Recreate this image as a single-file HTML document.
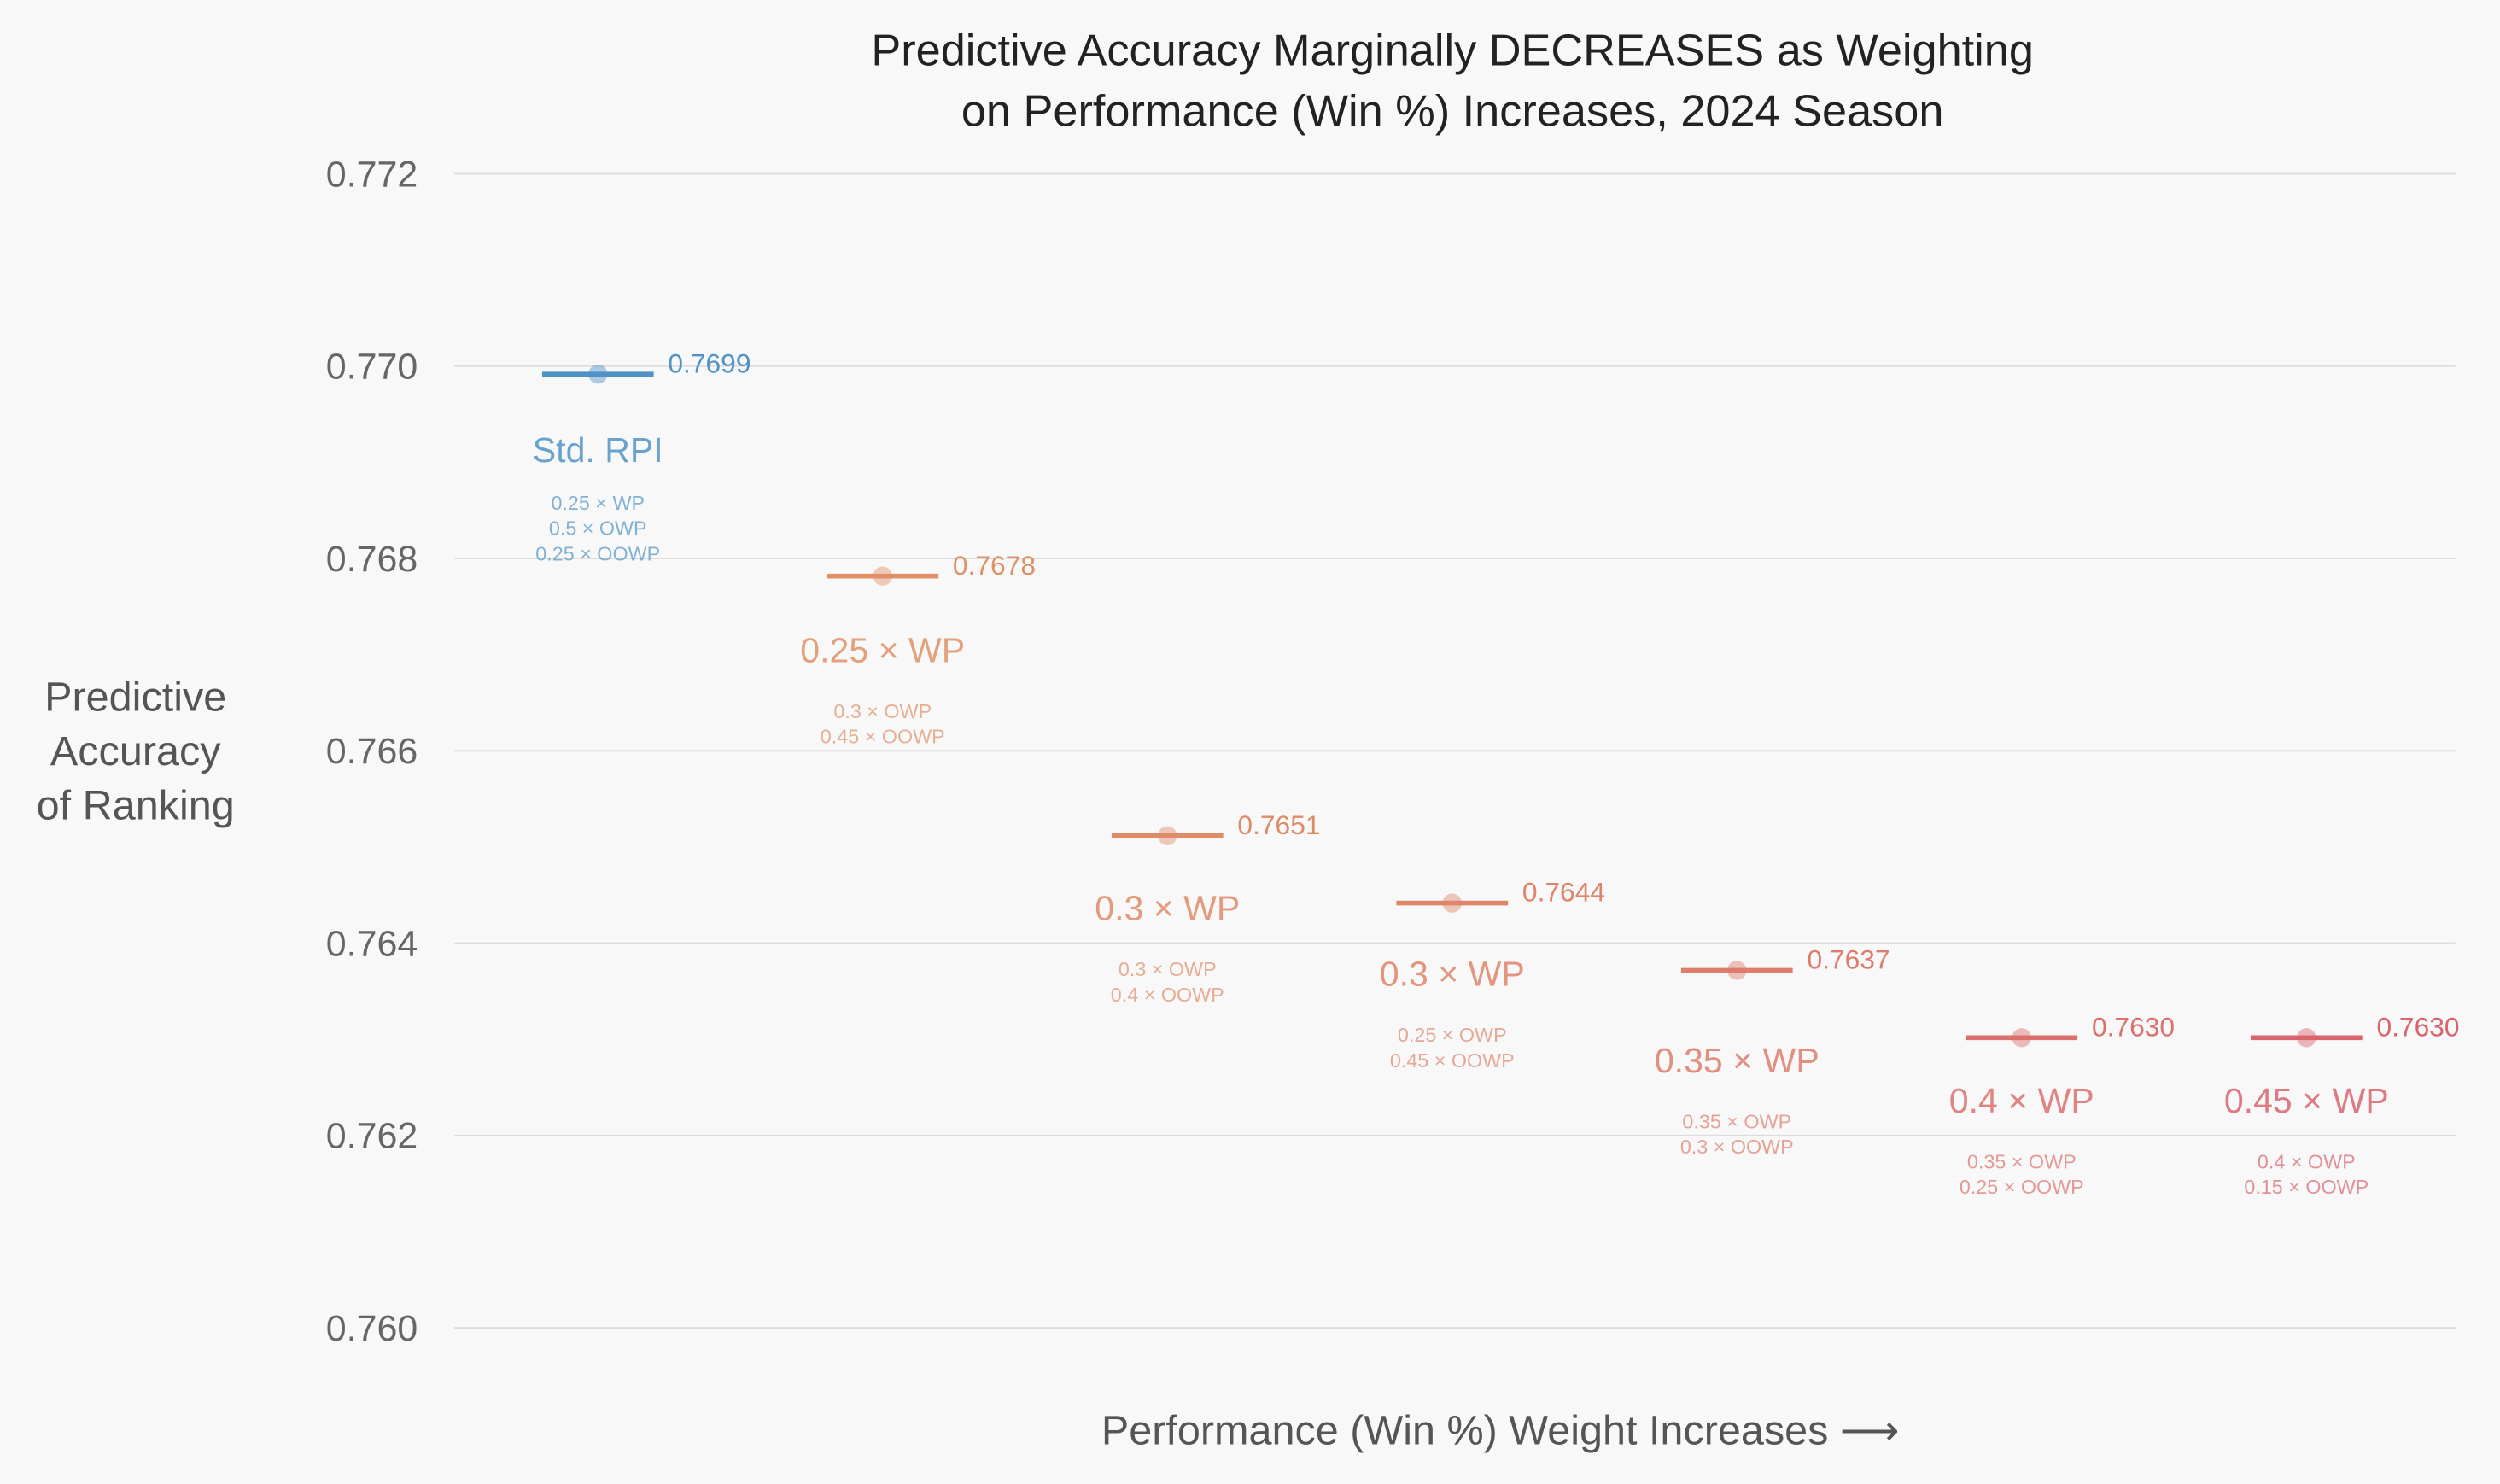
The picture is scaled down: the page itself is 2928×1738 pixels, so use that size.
<!DOCTYPE html>
<html><head><meta charset="utf-8"><style>
html,body{margin:0;padding:0;background:#f8f8f8;}
svg{display:block;font-family:"Liberation Sans",sans-serif;}
</style></head><body>
<svg id="chart" width="2928" height="1738" viewBox="0 0 1568 931" preserveAspectRatio="none" xmlns="http://www.w3.org/2000/svg">
<rect width="1568" height="931" fill="#f8f8f8"/>
<text x="911" y="41" text-anchor="middle" font-size="28" fill="#222">Predictive Accuracy Marginally DECREASES as Weighting</text>
<text x="911" y="79" text-anchor="middle" font-size="28" fill="#222">on Performance (Win %) Increases, 2024 Season</text>
<g id="grid"></g>
<g id="marks"></g>
<text text-anchor="middle" font-size="26" fill="#555"><tspan x="85" y="446">Predictive</tspan><tspan x="85" y="480">Accuracy</tspan><tspan x="85" y="514">of Ranking</tspan></text>
<text x="941" y="906" text-anchor="middle" font-size="26" fill="#555">Performance (Win %) Weight Increases ⟶</text>
</svg>
<script>
const yTicks = [0.760, 0.762, 0.764, 0.766, 0.768, 0.770, 0.772];
const values = [0.7699, 0.7678, 0.7651, 0.7644, 0.7637, 0.7630, 0.7630];
const mainLabels = ["Std. RPI", "0.25 × WP", "0.3 × WP", "0.3 × WP", "0.35 × WP", "0.4 × WP", "0.45 × WP"];
const subLabels = [["0.25 × WP","0.5 × OWP","0.25 × OOWP"],["0.3 × OWP","0.45 × OOWP"],["0.3 × OWP","0.4 × OOWP"],["0.25 × OWP","0.45 × OOWP"],["0.35 × OWP","0.3 × OOWP"],["0.35 × OWP","0.25 × OOWP"],["0.4 × OWP","0.15 × OOWP"]];
const colors = ["#4f93c6","#df9067","#df8b68","#de856a","#dd7d6b","#dc706e","#d9646e"];
const labelOffsets = [55, 54, 53, 52, 64, 47, 47];
const NS = "http://www.w3.org/2000/svg";
function yS(v){ return 833 - (v - 0.760) / 0.012 * 724; }
function xS(i){ return 375 + i * 178.6; }
function mk(tag, attrs, parent){ const e=document.createElementNS(NS,tag); for(const k in attrs) e.setAttribute(k,attrs[k]); parent.appendChild(e); return e; }
const grid=document.getElementById('grid'), marks=document.getElementById('marks');
yTicks.forEach(t=>{
  const l=mk('line',{x1:285,x2:1540,y1:yS(t),y2:yS(t),stroke:'#dcdcdc','stroke-width':1},grid);
  
  
  const tx=mk('text',{x:262,y:yS(t)+8,'text-anchor':'end','font-size':23,fill:'#666'},grid);
  tx.textContent=t.toFixed(3);
  
  
});
values.forEach((v,i)=>{
  const x=xS(i), y=yS(v)-1, c=colors[i], o=labelOffsets[i];
  const g=mk('g',{},marks);
  
  
  const ln=mk('line',{x1:x-35,x2:x+35,y1:y,y2:y,stroke:c,'stroke-width':3},g);
  
  
  const dot=mk('circle',{cx:x,cy:y,r:6,fill:c,'fill-opacity':0.45},g);
  
  
  const vt=mk('text',{x:x+44,y:y-1,'font-size':17,fill:c},g);
  vt.textContent=v.toFixed(4);
  
  
  const mt=mk('text',{x:x,y:y+o,'text-anchor':'middle','font-size':22,fill:c,'fill-opacity':0.85},g);
  mt.textContent=mainLabels[i];
  
  
  subLabels[i].forEach((s,j)=>{
    const st=mk('text',{x:x,y:y+o+(i===0?30:35)+j*16,'text-anchor':'middle','font-size':12.5,fill:c,'fill-opacity':0.7},g);
    st.textContent=s;
    
    
  });
});
</script>
</body></html>
